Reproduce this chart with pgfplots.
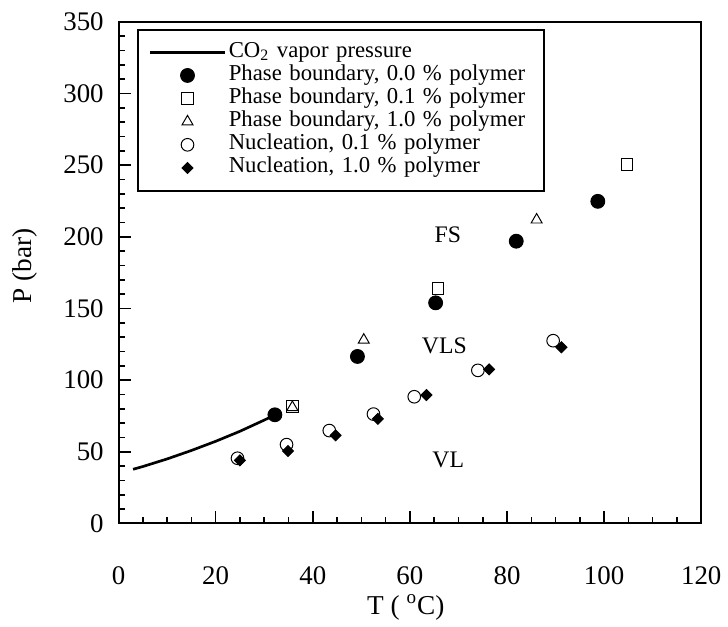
\documentclass[border=0pt]{standalone}
\usepackage{fontspec}
\setmainfont{Liberation Serif}
\usepackage{pgfplots}
\pgfplotsset{compat=1.18}
\pgfplotsset{
  lgline/.style={legend image code/.code={\draw[##1] (0pt,0pt) -- (37.5pt,0pt);}},
  lgmark/.style={legend image code/.code={\draw[mark repeat=2,mark phase=2,##1]
      plot coordinates {(0pt,0pt) (18.75pt,0pt) (37.5pt,0pt)};}},
}

\begin{document}
\begin{tikzpicture}
\begin{axis}[name=ax, scale only axis, width=295pt, height=254pt,
  xmin=0, xmax=120, ymin=0, ymax=350,
  xtick={0,20,...,120}, ytick={0,50,...,350},
  minor x tick num=3, minor y tick num=4,
  tick align=inside, xtick pos=left, ytick pos=left,
  major tick length=6.5pt, minor tick length=3.5pt,
  axis line style={line width=1pt},
  every tick/.style={line width=0.8pt, black},
  tick label style={font=\fontsize{13.6}{16}\selectfont},
  /pgf/number format/assume math mode=true,
  xticklabel style={anchor=center, yshift=-26.5pt},
  yticklabel style={anchor=east, xshift=-4pt},
  xlabel={T ( \textsuperscript{o}C)}, ylabel={P (bar)},
  label style={font=\fontsize{13.8}{16}\selectfont},
  xlabel style={at={(axis description cs:0.493,-0.167)}, anchor=center},
  ylabel style={at={(axis description cs:-0.161,0.514)}, anchor=center},
  legend cell align=left,
  legend style={at={(axis description cs:0.0322,0.986)}, anchor=north west,
    draw=black, line width=1pt, font=\fontsize{11.5}{11.7}\selectfont,
    inner xsep=5.5pt, inner ysep=5.6pt, row sep=0pt, column sep=1.5pt,
    nodes={inner sep=0pt, text height=8.3pt, text depth=3.4pt,
      text width=154pt, align=left}},
]
% CO2 vapour pressure curve
\addplot[black, line width=1.35pt, lgline]
  coordinates {(3,37.8) (5,39.7) (10,45.0) (15,50.9) (20,57.3) (25,64.3) (30,72.1) (31.5,74.5)};
\addlegendentry{CO\textsubscript{2} vapor pressure}

\addplot[only marks, mark=*, mark size=3.5pt, mark options={black, fill=black, line width=0.5pt}, lgmark]
  coordinates {(32.2,75.8) (49.2,116.5) (65.3,153.9) (81.9,196.9) (98.7,224.7)};
\addlegendentry{Phase boundary, 0.0 \% polymer}

\addplot[only marks, mark=square, mark size=2.9pt, mark options={black, line width=0.5pt}, lgmark]
  coordinates {(35.8,81.5) (65.8,163.8) (104.7,250.4)};
\addlegendentry{Phase boundary, 0.1 \% polymer}

\addplot[only marks, mark=triangle, mark size=3.2pt, mark options={black, line width=0.5pt}, lgmark]
  coordinates {(35.8,81.0) (50.5,128.0) (86.1,211.8)};
\addlegendentry{Phase boundary, 1.0 \% polymer}

\addplot[only marks, mark=o, mark size=3.2pt, mark options={black, line width=0.5pt}, lgmark]
  coordinates {(24.5,45.5) (34.6,55.0) (43.4,64.8) (52.5,76.3) (60.9,88.4) (74.0,106.8) (89.5,127.5)};
\addlegendentry{Nucleation, 0.1 \% polymer}

\addplot[only marks, mark=square*, mark size=1.95pt, mark options={black, fill=black, rotate=45, line width=0.5pt}, lgmark]
  coordinates {(25.0,44.0) (34.9,50.5) (44.7,61.5) (53.4,73.0) (63.4,89.6) (76.3,107.5) (91.2,122.9)};
\addlegendentry{Nucleation, 1.0 \% polymer}

\node[font=\fontsize{12}{14}\selectfont] at (axis cs:67.8,201.7) {FS};
\node[font=\fontsize{12}{14}\selectfont] at (axis cs:67.1,123.6) {VLS};
\node[font=\fontsize{12}{14}\selectfont] at (axis cs:67.9,44.3) {VL};
\end{axis}
\path ([shift={(-60pt,-48.5pt)}]ax.south west) rectangle ([shift={(9pt,11pt)}]ax.north east);
\end{tikzpicture}
\end{document}
